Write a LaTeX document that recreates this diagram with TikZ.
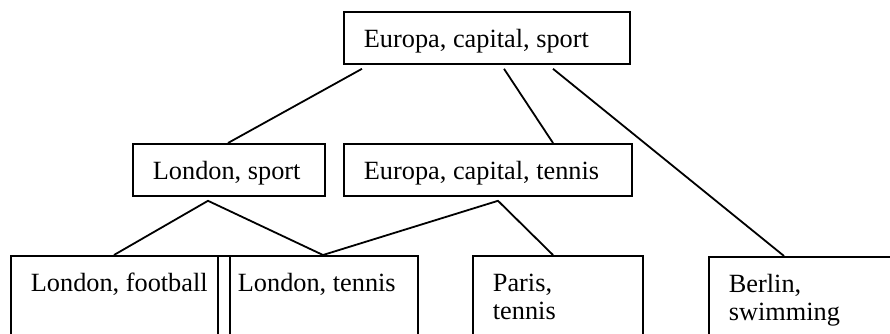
\documentclass[tikz,border=0pt]{standalone}
\usepackage{fontspec}
\setmainfont{Liberation Serif}

\begin{document}
\begin{tikzpicture}[x=1pt, y=-1pt, line width=1.8pt,
    box/.style={draw, rectangle, anchor=north west, inner xsep=20pt, inner ysep=14pt,
        text height=22pt, text depth=2pt, align=flush left,
        font=\fontsize{26.3pt}{28pt}\selectfont},
    open/.style={text depth=80pt}]
  \clip (0,0) rectangle (890,334);
  % upper levels
  \node[box, text width=246pt] (root) at (343,11) {Europa, capital, sport};
  \node[box, text width=152pt] (lonsport) at (132,143) {London, sport};
  \node[box, text width=248pt] (eurtennis) at (343,143) {Europa, capital, tennis};
  % leaves, cut off at the bottom
  \node[box, open, text width=179pt] (lonfoot) at (10,255) {London,~football};
  \node[box, open, text width=160pt] (lontennis) at (217,255) {London, tennis};
  \node[box, open, text width=130pt] (paris) at (472,255) {Paris,\\tennis};
  \node[box, open, text width=160pt] (berlin) at (708,256) {Berlin,\\swimming};
  % edges
  \draw ([shift={(19,4)}]root.south west) -- ([shift={(96,0)}]lonsport.north west);
  \draw ([shift={(161,4)}]root.south west) -- ([shift={(210,0)}]eurtennis.north west);
  \draw ([shift={(210,4)}]root.south west) -- ([shift={(76,0)}]berlin.north west);
  \draw ([shift={(104,0)}]lonfoot.north west) -- ([shift={(76,4)}]lonsport.south west)
        -- ([shift={(106,0)}]lontennis.north west);
  \draw ([shift={(106,0)}]lontennis.north west) -- ([shift={(155,4)}]eurtennis.south west)
        -- ([shift={(81,0)}]paris.north west);
\end{tikzpicture}
\end{document}
